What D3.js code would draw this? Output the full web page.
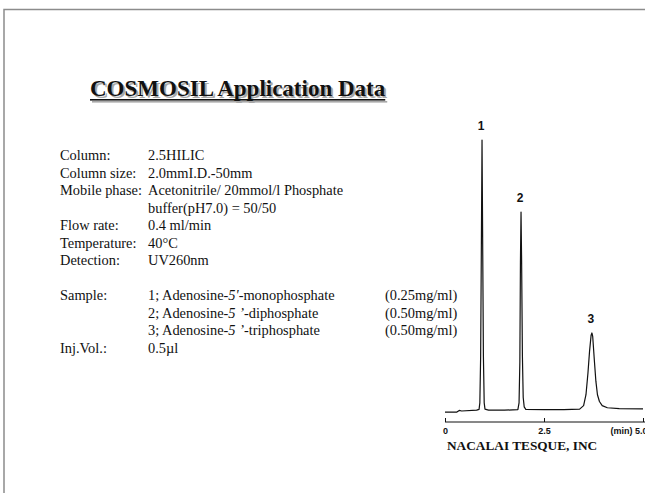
<!DOCTYPE html>
<html lang="en">
	<head>
		<meta charset="utf-8">
		<title>COSMOSIL Application Data</title>
		<style type="text/css">
			body { margin: 0; background: #fff; }
			svg { display: block; }
		</style>
	</head>
	<body>
		<script src="https://d3js.org/d3.v7.min.js"></script>
		<script type="text/javascript">
			//Width and height
			var w = 645;
			var h = 493;

			//Conditions text
			var conditionLabels = ["Column:", "Column size:", "Mobile phase:", "", "Flow rate:",
								   "Temperature:", "Detection:", "", "Sample:", "", "", "Inj.Vol.:"];
			var conditionValues = ["2.5HILIC", "2.0mmI.D.-50mm", "Acetonitrile/ 20mmol/l Phosphate",
								   "buffer(pH7.0) = 50/50", "0.4 ml/min", "40\u00B0C", "UV260nm", "", "", "", "", "0.5\u00B5l"];
			var sampleNames = [["1; Adenosine-", "5'", "-monophosphate"],
							   ["2; Adenosine-", "5 \u2019", "-diphosphate"],
							   ["3; Adenosine-", "5 \u2019", "-triphosphate"]];
			var sampleConc = ["(0.25mg/ml)", "(0.50mg/ml)", "(0.50mg/ml)"];

			//Chromatogram, time (min) and signal (relative)
			var trace = [
				[0.00, -0.4], [0.30, -0.4], [0.36, 0.2], [0.42, 0.0], [0.80, 0.3],
				[0.86, 0.6], [0.88, 3], [0.90, 20], [0.92, 65], [0.935, 100],
				[0.95, 65], [0.97, 20], [0.99, 3], [1.01, 0.7], [1.10, 0.3],
				[1.50, 0.3], [1.84, 0.5], [1.87, 3], [1.89, 18], [1.905, 55],
				[1.92, 73.4], [1.935, 55], [1.955, 20], [1.975, 5], [2.00, 1.5],
				[2.04, 0.6], [2.50, 0.5], [3.00, 0.5], [3.40, 0.7], [3.50, 2],
				[3.56, 6], [3.61, 14], [3.65, 22], [3.69, 28], [3.71, 28.8],
				[3.73, 27.5], [3.77, 19], [3.81, 11], [3.85, 6], [3.90, 3.5],
				[3.97, 2], [4.10, 1.2], [4.40, 0.9], [5.00, 0.8]
			];
			var peakNames = ["1", "2", "3"];
			var peakTimes = [0.935, 1.92, 3.71];
			var peakHeights = [100, 73.4, 28.8];
			var xTicks = [0, 2.5, 5];
			var xTickLabels = ["0", "2.5", "(min) 5.0"];

			//Create scale functions
			var xScale = d3.scaleLinear()
							.domain([0, 5])
							.range([445, 643]);

			var yScale = d3.scaleLinear()
							.domain([0, 100])
							.range([411, 140]);

			var rowScale = d3.scaleLinear()
							.domain([0, 11])
							.range([160, 160 + 11 * 17.5]);

			//Create SVG element
			var svg = d3.select("body")
						.append("svg")
						.attr("width", w)
						.attr("height", h);

			//Slide frame
			svg.append("path")
			   .attr("d", "M4,493V9.5H645")
			   .attr("fill", "none")
			   .attr("stroke", "#8c8c8c")
			   .attr("stroke-width", 1.5);

			//Title with shadow
			var titleX = 90, titleY = 96;
			[[2, 2, "#a8a8a8"], [0, 0, "#111"]].forEach(function(s) {
				var t = svg.append("text")
				   .attr("x", titleX + s[0])
				   .attr("y", titleY + s[1])
				   .attr("font-family", "'Liberation Serif', 'Times New Roman', serif")
				   .attr("font-weight", "bold")
				   .attr("font-size", "23px")
				   .attr("fill", s[2])
				   .text("COSMOSIL Application Data");
				var len = t.node().getComputedTextLength();
				svg.append("rect")
				   .attr("x", titleX + s[0])
				   .attr("y", titleY + 3 + s[1])
				   .attr("width", len)
				   .attr("height", 1.6)
				   .attr("fill", s[2]);
			});

			//Conditions
			var cond = svg.append("g")
						  .attr("font-family", "'Liberation Serif', 'Times New Roman', serif")
						  .attr("font-size", "14.4px")
						  .attr("fill", "#111");

			cond.selectAll("text.label")
				.data(conditionLabels)
				.enter()
				.append("text")
				.attr("class", "label")
				.attr("x", 60)
				.attr("y", function(d, i) { return rowScale(i); })
				.text(function(d) { return d; });

			cond.selectAll("text.value")
				.data(conditionValues)
				.enter()
				.append("text")
				.attr("class", "value")
				.attr("x", 148)
				.attr("y", function(d, i) { return rowScale(i); })
				.text(function(d) { return d; });

			var names = cond.selectAll("text.sample")
				.data(sampleNames)
				.enter()
				.append("text")
				.attr("class", "sample")
				.attr("x", 148)
				.attr("y", function(d, i) { return rowScale(8 + i); });
			names.append("tspan").text(function(d) { return d[0]; });
			names.append("tspan").attr("font-style", "italic").text(function(d) { return d[1]; });
			names.append("tspan").text(function(d) { return d[2]; });

			cond.selectAll("text.conc")
				.data(sampleConc)
				.enter()
				.append("text")
				.attr("class", "conc")
				.attr("x", 385)
				.attr("y", function(d, i) { return rowScale(8 + i); })
				.text(function(d) { return d; });

			//Chromatogram line
			var line = d3.line()
						 .x(function(d) { return xScale(d[0]); })
						 .y(function(d) { return yScale(d[1]); });

			svg.append("path")
			   .datum(trace)
			   .attr("d", line)
			   .attr("fill", "none")
			   .attr("stroke", "#111")
			   .attr("stroke-width", 1.2)
			   .attr("stroke-linejoin", "round");

			//Peak numbers
			svg.selectAll("text.peak")
			   .data(peakNames)
			   .enter()
			   .append("text")
			   .attr("class", "peak")
			   .attr("x", function(d, i) { return xScale(peakTimes[i]) - 1; })
			   .attr("y", function(d, i) { return yScale(peakHeights[i]) - 10; })
			   .attr("text-anchor", "middle")
			   .attr("font-family", "'Liberation Sans', Arial, sans-serif")
			   .attr("font-weight", "bold")
			   .attr("font-size", "12px")
			   .attr("fill", "#111")
			   .text(function(d) { return d; });

			//Time axis
			var xAxis = d3.axisBottom(xScale)
						  .tickValues(xTicks)
						  .tickSizeInner(-4)
						  .tickSizeOuter(0)
						  .tickPadding(6)
						  .tickFormat(function(d, i) { return xTickLabels[i]; });

			var ax = svg.append("g")
			   .attr("transform", "translate(0,422)")
			   .call(xAxis);
			ax.select(".domain").attr("d", "M445,0H645").attr("stroke", "#111");
			ax.selectAll(".tick line").attr("stroke", "#111");
			ax.selectAll(".tick text")
			  .attr("font-family", "'Liberation Sans', Arial, sans-serif")
			  .attr("font-weight", "bold")
			  .attr("font-size", "9px")
			  .attr("fill", "#111");
			ax.selectAll(".tick text")
			  .filter(function(d) { return d === 5; })
			  .attr("text-anchor", "end")
			  .attr("dx", "4px");

			//Company name
			svg.append("text")
			   .attr("x", 447)
			   .attr("y", 450)
			   .attr("font-family", "'Liberation Serif', 'Times New Roman', serif")
			   .attr("font-weight", "bold")
			   .attr("font-size", "13.3px")
			   .attr("fill", "#111")
			   .text("NACALAI TESQUE, INC");
		</script>
	</body>
</html>
